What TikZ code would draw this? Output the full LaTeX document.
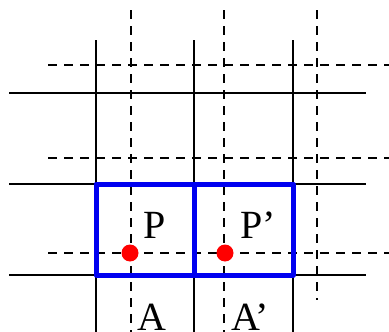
\documentclass[tikz,border=0pt]{standalone}
\usepackage{fontspec}
\setmainfont{Liberation Serif}
\usepackage{tikz}
\usetikzlibrary{positioning}
\definecolor{gridblue}{RGB}{0, 0, 240}
\tikzset{
    every path/.style={line cap=butt},
    solidline/.style={black, line width=2pt},
    dashline/.style={black, line width=2pt, dash pattern=on 9pt off 7pt},
    cellbox/.style={gridblue, line width=5pt, line join=round},
    ptdot/.style={circle, fill=red, inner sep=0pt, minimum size=17pt},
    lbl/.style={font=\fontsize{40}{40}\selectfont, inner sep=0pt, anchor=base}
}

\begin{document}
\begin{tikzpicture}[x=1pt, y=-1pt]
    \useasboundingbox (0,0) rectangle (389,332);

    % solid grid
    \foreach \yy in {93, 184, 275}
        \draw [solidline] (9,\yy) -- (366,\yy);
    \foreach \xx in {96, 194, 293}
        \draw [solidline] (\xx,40) -- (\xx,332);

    % shifted (dashed) grid
    \foreach \yy in {65, 158, 253}
        \draw [dashline] (48,\yy) -- (389,\yy);
    \draw [dashline] (131,10) -- (131,332);
    \draw [dashline] (224,10) -- (224,332);
    \draw [dashline] (317,10) -- (317,300);

    % the two cells
    \draw [cellbox] (96,184) rectangle (293,275);
    \draw [cellbox] (194,184) -- (194,275);

    \node [ptdot] (p) at (130,253) {};
    \node [ptdot] (pp) at (225,253) {};

    \node [lbl] (plabel) at (155,238) {P};
    \node [lbl] (pplabel) at (258,238) {P’};
    \node [lbl] (a) at (152,330) {A};
    \node [lbl] (aa) at (250,330) {A’};
\end{tikzpicture}
\end{document}
